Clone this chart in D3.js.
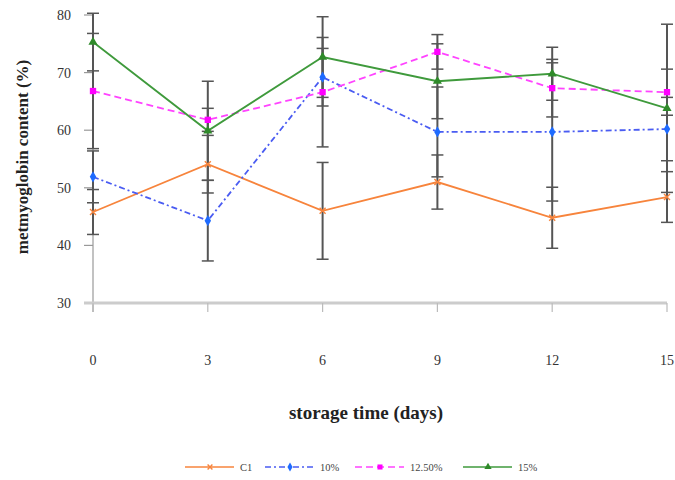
<!DOCTYPE html>
<html>
<head>
<meta charset="utf-8">
<script src="https://cdn.jsdelivr.net/npm/d3@7"></script>
<style>
  body { margin: 0; background: #fff; }
</style>
</head>
<body>
<div id="chart"></div>
<script>
// storage days
const days = [0, 3, 6, 9, 12, 15];

// metmyoglobin content (%) per treatment
const c1 = [45.8, 54.1, 46.0, 51.0, 44.8, 48.4];
const p10 = [51.9, 44.3, 69.2, 59.7, 59.7, 60.2];
const p125 = [66.8, 61.8, 66.6, 73.6, 67.3, 66.6];
const p15 = [75.3, 59.9, 72.7, 68.5, 69.8, 63.8];

// standard deviations (error bars)
const c1Err = [3.9, 5.0, 8.4, 4.7, 5.3, 4.4];
const p10Err = [4.5, 7.0, 5.0, 7.8, 12.0, 5.5];
const p125Err = [10.0, 2.0, 9.5, 3.0, 5.0, 4.0];
const p15Err = [5.0, 8.6, 7.0, 6.5, 4.6, 14.6];

const yTicks = [30, 40, 50, 60, 70, 80];

const seriesNames = ["C1", "10%", "12.50%", "15%"];

const FONT = "'Liberation Serif', 'DejaVu Serif', 'Times New Roman', serif";

const series = [
  {name: seriesNames[0], values: c1, err: c1Err, color: "#f7843c", dash: null, marker: "x"},
  {name: seriesNames[1], values: p10, err: p10Err, color: "#4a5cf2", dash: "6,3,2,3", marker: "diamond", mcolor: "#1e6bff"},
  {name: seriesNames[2], values: p125, err: p125Err, color: "#ff44ff", dash: "7,4", marker: "square", mcolor: "#ff00ff"},
  {name: seriesNames[3], values: p15, err: p15Err, color: "#3f9a3c", dash: null, marker: "triangle", mcolor: "#2f8a2a"}
];

const width = 675, height = 480;
const margin = {top: 15, right: 8, bottom: 177, left: 93};

const svg = d3.select("#chart").append("svg")
  .attr("width", width)
  .attr("height", height)
  .attr("font-family", FONT);

const x = d3.scaleLinear().domain([0, 15]).range([margin.left, width - margin.right]);
const y = d3.scaleLinear().domain([30, 80]).range([height - margin.bottom, margin.top]);

// y axis
svg.append("line")
  .attr("x1", x(0)).attr("x2", x(0))
  .attr("y1", y(80)).attr("y2", y(30) + 9)
  .attr("stroke", "#999").attr("stroke-width", 1.2);
svg.selectAll(".ytick").data(yTicks).enter().append("line")
  .attr("x1", x(0) - 9).attr("x2", x(0))
  .attr("y1", d => y(d)).attr("y2", d => y(d))
  .attr("stroke", "#999").attr("stroke-width", 1.2);
svg.selectAll(".ylab").data(yTicks).enter().append("text")
  .attr("x", x(0) - 22).attr("y", d => y(d) + 5)
  .attr("text-anchor", "end")
  .attr("font-family", FONT)
  .attr("font-size", 14)
  .attr("fill", "#333")
  .text(d => d);

// x axis
svg.append("line")
  .attr("x1", x(0) - 9).attr("x2", x(15))
  .attr("y1", y(30)).attr("y2", y(30))
  .attr("stroke", "#ccc").attr("stroke-width", 3);
svg.selectAll(".xtick").data(days).enter().append("line")
  .attr("x1", d => x(d)).attr("x2", d => x(d))
  .attr("y1", y(30)).attr("y2", y(30) + 9)
  .attr("stroke", "#bbb").attr("stroke-width", 1.2);
svg.selectAll(".xlab").data(days).enter().append("text")
  .attr("x", d => x(d)).attr("y", y(30) + 62)
  .attr("text-anchor", "middle")
  .attr("font-family", FONT)
  .attr("font-size", 14)
  .attr("fill", "#333")
  .text(d => d);

// axis titles
svg.append("text")
  .attr("transform", `translate(28,157) rotate(-90)`)
  .attr("text-anchor", "middle")
  .attr("font-family", FONT)
  .attr("font-size", 17)
  .attr("font-weight", "bold")
  .attr("fill", "#222")
  .text("metmyoglobin content (%)");
svg.append("text")
  .attr("x", 366).attr("y", 419)
  .attr("text-anchor", "middle")
  .attr("font-family", FONT)
  .attr("font-size", 19)
  .attr("font-weight", "bold")
  .attr("fill", "#222")
  .text("storage time (days)");

// error bars
const errG = svg.append("g");
series.forEach(s => {
  days.forEach((d, i) => {
    const hi = y(s.values[i] + s.err[i]), lo = y(s.values[i] - s.err[i]);
    errG.append("line")
      .attr("x1", x(d)).attr("x2", x(d)).attr("y1", hi).attr("y2", lo)
      .attr("stroke", "#555").attr("stroke-width", 2);
    [hi, lo].forEach(yy => errG.append("line")
      .attr("x1", x(d) - 6).attr("x2", x(d) + 6).attr("y1", yy).attr("y2", yy)
      .attr("stroke", "#555").attr("stroke-width", 1.5));
  });
});

const line = d3.line().x((d, i) => x(days[i])).y(d => y(d));

function drawMarker(g, s, cx, cy, k) {
  const c = s.mcolor || s.color;
  const r = 3 * k;
  if (s.marker === "x") {
    g.append("path")
      .attr("d", `M${cx - r},${cy - r}L${cx + r},${cy + r}M${cx - r},${cy + r}L${cx + r},${cy - r}`)
      .attr("stroke", c).attr("stroke-width", 1.4);
  } else if (s.marker === "diamond") {
    g.append("path").attr("d", d3.symbol(d3.symbolDiamond, 36 * k * k)())
      .attr("transform", `translate(${cx},${cy})`).attr("fill", c);
  } else if (s.marker === "square") {
    g.append("path").attr("d", d3.symbol(d3.symbolSquare, 40 * k * k)())
      .attr("transform", `translate(${cx},${cy})`).attr("fill", c);
  } else {
    g.append("path").attr("d", d3.symbol(d3.symbolTriangle, 36 * k * k)())
      .attr("transform", `translate(${cx},${cy})`).attr("fill", c);
  }
}

// lines and markers
series.forEach(s => {
  svg.append("path")
    .datum(s.values)
    .attr("d", line)
    .attr("fill", "none")
    .attr("stroke", s.color)
    .attr("stroke-width", 1.8)
    .attr("stroke-dasharray", s.dash);
  const g = svg.append("g");
  s.values.forEach((v, i) => drawMarker(g, s, x(days[i]), y(v), 1));
});

// legend
const legendX = [185, 265, 355, 463];
const legend = svg.append("g");
series.forEach((s, i) => {
  const lx = legendX[i], ly = 467;
  legend.append("line")
    .attr("x1", lx).attr("x2", lx + 49).attr("y1", ly).attr("y2", ly)
    .attr("stroke", s.color).attr("stroke-width", 1.5)
    .attr("stroke-dasharray", s.dash);
  drawMarker(legend, s, lx + 25, ly, 0.8);
  legend.append("text")
    .attr("x", lx + 55).attr("y", ly + 4)
    .attr("font-family", FONT)
    .attr("font-size", 10.5)
    .attr("fill", "#444")
    .text(s.name);
});
</script>
</body>
</html>
